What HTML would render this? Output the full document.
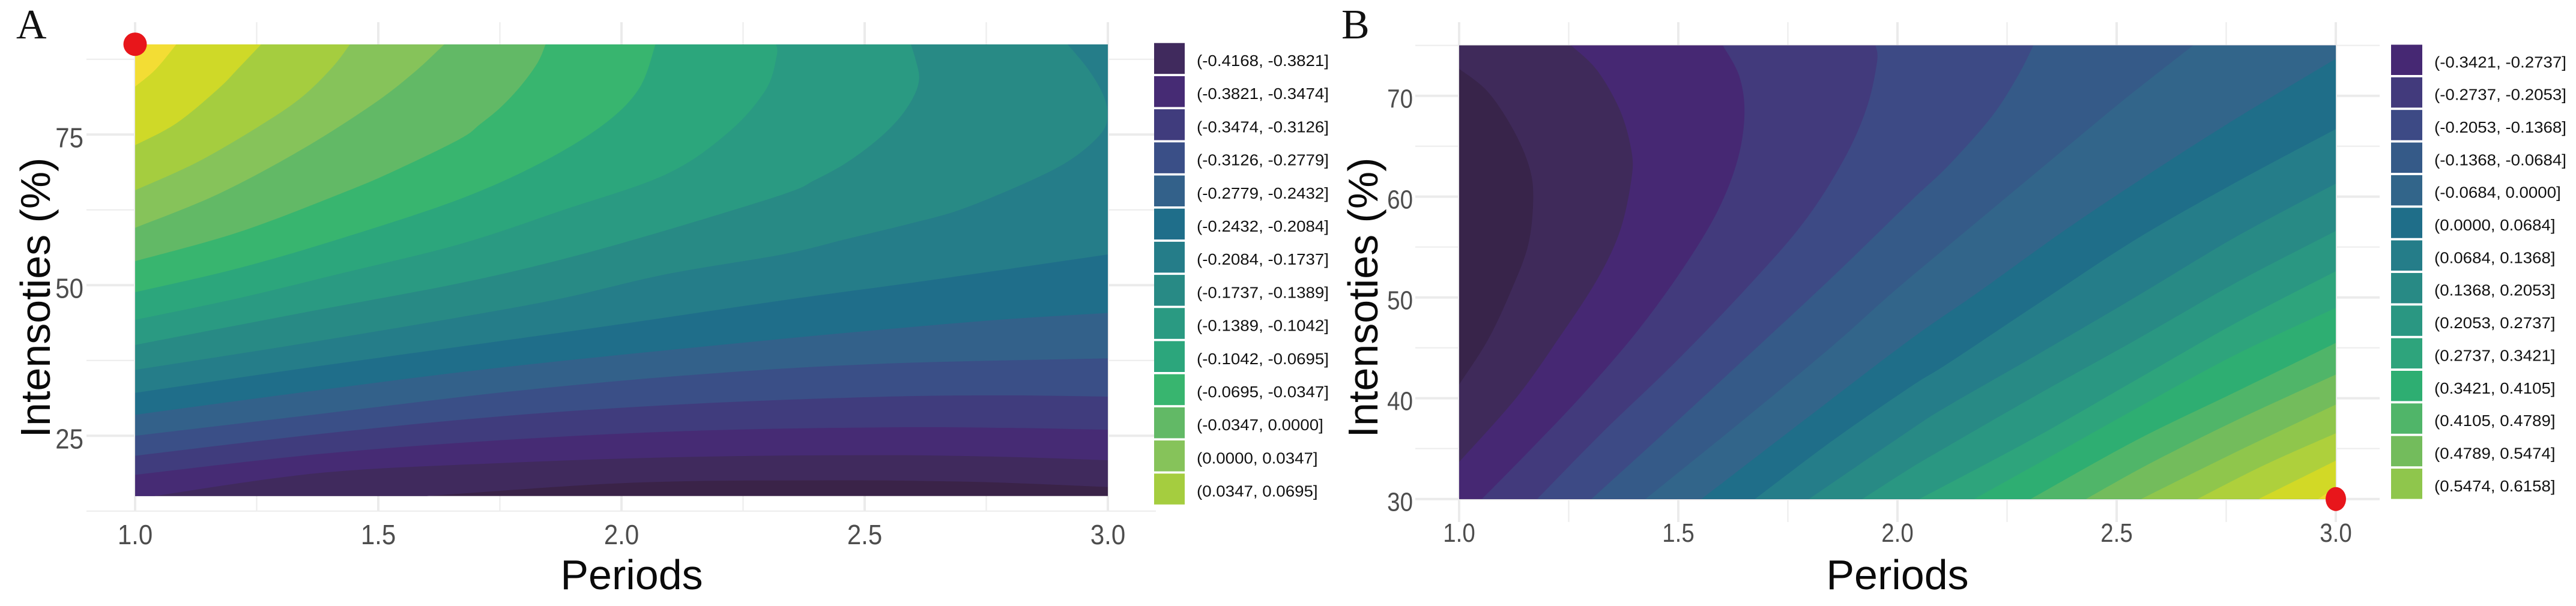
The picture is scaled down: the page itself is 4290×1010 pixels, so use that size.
<!DOCTYPE html>
<html lang="en">
<head>
<meta charset="utf-8">
<title>Contour panels A and B</title>
<style>
html,body{margin:0;padding:0;background:#fff;width:4290px;height:1010px;overflow:hidden}
svg{display:block}
text{font-family:"Liberation Sans",sans-serif}
.panel-letter{font-family:"Liberation Serif",serif;font-size:70px;fill:#111}
.axis-title{font-size:70px;fill:#0a0a0a}
</style>
</head>
<body>
<svg id="figure" xmlns="http://www.w3.org/2000/svg" width="4290" height="1010" viewBox="0 0 4290 1010">
  <rect x="0" y="0" width="4290" height="1010" fill="#fff"/>
  <defs>
    <clipPath id="clip-a"><rect x="225" y="74" width="1620" height="753"/></clipPath>
    <clipPath id="clip-b"><rect x="2430" y="75" width="1460" height="757"/></clipPath>
  </defs>
  <g id="panel-a"></g>
  <g id="panel-b"></g>
  <text class="panel-letter" x="27" y="64">A</text>
  <text class="panel-letter" x="2234" y="64">B</text>
  <text class="axis-title" x="1052" y="982" text-anchor="middle">Periods</text>
  <text class="axis-title" x="3160" y="982" text-anchor="middle">Periods</text>
  <text class="axis-title" transform="translate(83,496) rotate(-90)" text-anchor="middle">Intensoties (%)</text>
  <text class="axis-title" transform="translate(2294,496) rotate(-90)" text-anchor="middle">Intensoties (%)</text>
</svg>
<script>
// ---------- Panel A data (period, intensity) ----------
const xTicksA = [1, 1.5, 2, 2.5, 3];
const xMinorA = [1.25, 1.75, 2.25, 2.75];
const xTickLabelsA = ['1.0', '1.5', '2.0', '2.5', '3.0'];
const yTicksA = [25, 50, 75];
const yMinorA = [12.5, 37.5, 62.5, 87.5];
const yTickLabelsA = ['25', '50', '75'];
const optimumA = [1, 90];
const legendLabelsA = ['(-0.4168, -0.3821]','(-0.3821, -0.3474]','(-0.3474, -0.3126]','(-0.3126, -0.2779]','(-0.2779, -0.2432]','(-0.2432, -0.2084]','(-0.2084, -0.1737]','(-0.1737, -0.1389]','(-0.1389, -0.1042]','(-0.1042, -0.0695]','(-0.0695, -0.0347]','(-0.0347, 0.0000]','(0.0000, 0.0347]','(0.0347, 0.0695]'];
const contourA01 = [[1,82.96],[1.0425,85.85],[1.085,90]];
const contourA02 = [[1,73.23],[1.085,76.89],[1.17,82.53],[1.2126,86.02],[1.2594,90]];
const contourA03 = [[1,65.76],[1.1276,70.41],[1.255,76.39],[1.34,81.04],[1.404,86.02],[1.442,90]];
const contourA04 = [[1,59.52],[1.17,65.1],[1.34,72.4],[1.489,80.04],[1.574,85.35],[1.636,90]];
const contourA05 = [[1,53.98],[1.2126,58.79],[1.425,65.27],[1.5315,68.92],[1.667,74.23],[1.7092,76.72],[1.7517,79.54],[1.794,83.19],[1.828,87],[1.844,90]];
const contourA06 = [[1,48.83],[1.2126,52.82],[1.425,57.8],[1.667,64.27],[1.8367,70.41],[1.964,76.72],[2.0366,82.7],[2.07,90]];
const contourA07 = [[1,44.25],[1.2126,47.84],[1.425,51.98],[1.667,56.8],[1.879,62.44],[2.092,68.42],[2.22,75.39],[2.296,82.36],[2.319,88],[2.318,90]];
const contourA08 = [[1,40.08],[1.34,45.35],[1.667,50.33],[1.879,54.31],[2.092,59.12],[2.333,65.1],[2.397,67.42],[2.461,70.25],[2.525,74.06],[2.571,77.72],[2.601,81.37],[2.612,84.36],[2.605,87.34],[2.595,90]];
const contourA09 = [[1,35.95],[1.336,40.2],[1.667,44.68],[1.879,47.84],[2.092,51.82],[2.333,55.14],[2.461,57.63],[2.588,60.12],[2.699,62.61],[2.843,67.42],[2.928,71.08],[2.988,75.39],[2.999,78.71],[2.988,82.03],[2.958,86.02],[2.917,90]];
const contourA10 = [[1,32.13],[1.383,36.62],[1.74,40.6],[2,43.55],[2.333,47.5],[2.588,50.3],[2.801,52.75],[3,55.1]];
const contourA11 = [[1,28.48],[1.383,32.63],[1.765,36.45],[2.269,40.6],[2.588,43],[2.801,44.4],[3,45.38]];
const contourA12 = [[1,25],[1.383,28.65],[1.765,32.3],[2.148,35.12],[2.531,36.95],[3,37.85]];
const contourA13 = [[1,21.68],[1.383,25.33],[1.765,28.32],[2.148,30.31],[2.531,31.47],[2.786,31.7],[3,31.5]];
const contourA14 = [[1,18.52],[1.383,22],[1.765,24.33],[2.148,25.83],[2.531,26.39],[2.786,26.32],[3,26]];
const contourA15 = [[1.04,15],[1.383,18.85],[1.765,20.51],[2.148,21.51],[2.531,21.78],[2.786,21.51],[3,20.93]];
const contourA16 = [[1.6,15],[2.02,17.2],[2.403,17.6],[2.722,17.36],[3,16.5]];
const contoursA = [contourA16,contourA15,contourA14,contourA13,contourA12,contourA11,contourA10,contourA09,contourA08,contourA07,contourA06,contourA05,contourA04,contourA03,contourA02,contourA01];

// ---------- Panel B data (period, intensity) ----------
const xTicksB = [1, 1.5, 2, 2.5, 3];
const xMinorB = [1.25, 1.75, 2.25, 2.75];
const xTickLabelsB = ['1.0', '1.5', '2.0', '2.5', '3.0'];
const yTicksB = [30, 40, 50, 60, 70];
const yMinorB = [35, 45, 55, 65, 75];
const yTickLabelsB = ['30', '40', '50', '60', '70'];
const optimumB = [3, 30];
const legendLabelsB = ['(-0.3421, -0.2737]','(-0.2737, -0.2053]','(-0.2053, -0.1368]','(-0.1368, -0.0684]','(-0.0684, 0.0000]','(0.0000, 0.0684]','(0.0684, 0.1368]','(0.1368, 0.2053]','(0.2053, 0.2737]','(0.2737, 0.3421]','(0.3421, 0.4105]','(0.4105, 0.4789]','(0.4789, 0.5474]','(0.5474, 0.6158]'];
const contourB01 = [[1,72.68],[1.0655,70.4],[1.1245,66.56],[1.1605,62.86],[1.169,59.72],[1.1573,55.17],[1.118,50.61],[1.0655,45.77],[1,41.36]];
const contourB02 = [[1.2556,75],[1.3145,72.54],[1.367,68.55],[1.393,64.56],[1.393,61.72],[1.367,56.6],[1.3145,51.75],[1.229,46.06],[1.131,40.08],[1,33.67]];
const contourB03 = [[1.6016,75],[1.639,71.97],[1.651,68.27],[1.6356,63.71],[1.59,58.6],[1.511,52.9],[1.406,46.63],[1.282,40.36],[1.164,34.95],[1.052,30]];
const contourB04 = [[1.95,75],[1.9535,73.4],[1.93,68.84],[1.878,63.7],[1.786,57.45],[1.655,50.9],[1.4915,43.5],[1.328,36.66],[1.178,30]];
const contourB05 = [[2.31,75],[2.2746,71.97],[2.2157,67.98],[2.1174,63.14],[2.0275,59.44],[1.852,52.04],[1.655,44.06],[1.4915,37.5],[1.302,30]];
const contourB06 = [[2.6744,75],[2.5106,69.4],[2.314,62.3],[2.117,55.17],[1.9863,50.4],[1.852,45.2],[1.655,38.08],[1.425,30]];
const contourB07 = [[3,73.68],[2.7727,67.75],[2.576,62.3],[2.3795,56.6],[2.1829,50.47],[2.0275,45.77],[1.7864,37.8],[1.553,30]];
const contourB08 = [[3,66.7],[2.7727,61.43],[2.5433,55.74],[2.314,49.19],[2.117,43.5],[2.0275,41.07],[1.852,35.8],[1.675,30]];
const contourB09 = [[3,61.29],[2.7727,56.02],[2.5433,50.04],[2.314,44.2],[2.117,39.28],[2.0275,36.8],[1.798,30]];
const contourB10 = [[3,56.6],[2.7727,51.47],[2.5433,45.77],[2.314,40.22],[2.117,35.29],[2.0275,33],[1.92,30]];
const contourB11 = [[3,52.6],[2.7727,47.48],[2.5433,41.79],[2.314,36.09],[2.05,30]];
const contourB12 = [[3,48.96],[2.7727,44.35],[2.5433,38.94],[2.3795,34.95],[2.175,30]];
const contourB13 = [[3,45.49],[2.7727,40.65],[2.5433,35.8],[2.304,30]];
const contourB14 = [[3,42.35],[2.7727,37.8],[2.576,33.53],[2.43,30]];
const contourB15 = [[3,39.37],[2.7727,34.67],[2.556,30]];
const contourB16 = [[3,36.52],[2.838,33.39],[2.684,30]];
const contourB17 = [[3,33.81],[2.824,30]];
const contourB18 = [[3,31.2],[2.96,30]];
const contoursB = [contourB01,contourB02,contourB03,contourB04,contourB05,contourB06,contourB07,contourB08,contourB09,contourB10,contourB11,contourB12,contourB13,contourB14,contourB15,contourB16,contourB17,contourB18];

// ---------- Styles ----------
const paletteA = ['#3a2348','#402a5d','#462b74','#403c7d','#3a4f87','#33618a','#1f6e8a','#257d89','#288a85','#2a9a82','#2ca67c','#38b56f','#62b966','#86c35a','#a5cd3f','#cfd928','#f3dd34'];
const paletteB = ['#38244a','#3f2a5a','#462873','#423a7c','#3d4a85','#355a88','#32658a','#1f6e89','#257d89','#288a85','#2a9782','#2ea47c','#2eae72','#50b569','#73bc5c','#8fc64c','#aed03c','#d2d926','#f0dc2e'];

const NS = 'http://www.w3.org/2000/svg';
function make(parent, tag, attrs) {
  const el = document.createElementNS(NS, tag);
  for (const k in attrs) el.setAttribute(k, attrs[k]);
  parent.appendChild(el);
  return el;
}

function smoothPath(pts) {
  let d = 'M' + pts[0][0].toFixed(2) + ' ' + pts[0][1].toFixed(2);
  for (let i = 0; i < pts.length - 1; i++) {
    const p0 = pts[Math.max(i - 1, 0)], p1 = pts[i], p2 = pts[i + 1], p3 = pts[Math.min(i + 2, pts.length - 1)];
    const c1x = p1[0] + (p2[0] - p0[0]) / 6, c1y = p1[1] + (p2[1] - p0[1]) / 6;
    const c2x = p2[0] - (p3[0] - p1[0]) / 6, c2y = p2[1] - (p3[1] - p1[1]) / 6;
    d += 'C' + c1x.toFixed(2) + ' ' + c1y.toFixed(2) + ' ' + c2x.toFixed(2) + ' ' + c2y.toFixed(2) + ' ' + p2[0].toFixed(2) + ' ' + p2[1].toFixed(2);
  }
  return d;
}

// Position on the domain perimeter, running bottom, right, top, left.
function perimeterPos(pt, dom) {
  const nx = (pt[0] - dom.x0) / (dom.x1 - dom.x0), ny = (pt[1] - dom.y0) / (dom.y1 - dom.y0);
  const dist = [ny, 1 - nx, 1 - ny, nx];
  const edge = dist.indexOf(Math.min.apply(null, dist));
  return [nx, 1 + ny, 3 - nx, 4 - ny][edge];
}
function closingCorners(curve, dom) {
  const corners = [[dom.x0, dom.y0], [dom.x1, dom.y0], [dom.x1, dom.y1], [dom.x0, dom.y1]];
  const s = perimeterPos(curve[curve.length - 1], dom);
  let t = perimeterPos(curve[0], dom);
  if (t <= s) t += 4;
  const out = [];
  for (let k = Math.ceil(s + 1e-6); k < t; k++) out.push(corners[k % 4]);
  return out;
}

function drawPanel(cfg) {
  const root = document.getElementById(cfg.rootId);
  const x = cfg.xScale, y = cfg.yScale, dom = cfg.domain;

  const grid = make(root, 'g', {});
  
  
  cfg.yMinor.forEach(v => {
    const line = make(grid, 'line', {x1: cfg.gridLeft, x2: cfg.gridRight, y1: y(v), y2: y(v), stroke: '#ededed', 'stroke-width': 2.2});
    
    
  });
  cfg.yTicks.forEach(v => {
    const line = make(grid, 'line', {x1: cfg.gridLeft, x2: cfg.gridRight, y1: y(v), y2: y(v), stroke: '#ebebeb', 'stroke-width': 4});
    
    
  });
  cfg.xMinor.forEach(v => {
    const line = make(grid, 'line', {x1: x(v), x2: x(v), y1: 37, y2: cfg.gridBottom, stroke: '#ededed', 'stroke-width': 2.2});
    
    
  });
  cfg.xTicks.forEach(v => {
    const line = make(grid, 'line', {x1: x(v), x2: x(v), y1: 37, y2: cfg.gridBottom, stroke: '#ebebeb', 'stroke-width': 4});
    
    
  });

  const plot = make(root, 'g', {'clip-path': 'url(#' + cfg.clipId + ')'});
  
  
  const base = make(plot, 'rect', {x: x(dom.x0), y: y(dom.y1), width: x(dom.x1) - x(dom.x0), height: y(dom.y0) - y(dom.y1), fill: cfg.palette[0]});
  
  
  cfg.contours.forEach((curve, i) => {
    const px = curve.map(p => [x(p[0]), y(p[1])]);
    let d = smoothPath(px);
    closingCorners(curve, dom).forEach(c => { d += 'L' + x(c[0]).toFixed(2) + ' ' + y(c[1]).toFixed(2); });
    d += 'Z';
    const band = make(plot, 'path', {d: d, fill: cfg.palette[i + 1]});
    
    
  });

  cfg.xTicks.forEach((v, i) => {
    const t = make(root, 'text', {transform: 'translate(' + x(v) + ',' + cfg.xLabelBase + ') scale(' + cfg.tickScaleX + ',1)', 'text-anchor': 'middle', 'font-size': cfg.tickSize, fill: '#4d4d4d'});
    t.textContent = cfg.xLabels[i];
    
    
  });
  cfg.yTicks.forEach((v, i) => {
    const t = make(root, 'text', {transform: 'translate(' + cfg.yLabelRight + ',' + (y(v) + cfg.yLabelShift) + ') scale(' + cfg.tickScaleX + ',1)', 'text-anchor': 'end', 'font-size': cfg.tickSize, fill: '#4d4d4d'});
    t.textContent = cfg.yLabels[i];
    
    
  });

  const legend = make(root, 'g', {});
  
  
  let stretch = 1;
  cfg.legendLabels.forEach((label, i) => {
    const top = cfg.legendTop + i * cfg.legendPitch;
    const key = make(legend, 'rect', {x: cfg.legendX, y: top, width: cfg.legendW, height: cfg.legendH, fill: cfg.palette[cfg.legendStart + i]});
    
    
    const t = make(legend, 'text', {x: cfg.legendTextX, y: top + cfg.legendH / 2 + 12.5, 'font-size': 26, fill: '#111'});
    t.textContent = label;
    
    
    const natural = t.getComputedTextLength();
    if (i === 0 && natural > 0) stretch = cfg.legendTextWidth / natural;
    if (natural > 0) {
      t.setAttribute('textLength', (natural * stretch).toFixed(2));
      t.setAttribute('lengthAdjust', 'spacingAndGlyphs');
    }
  });

  const dot = make(root, 'ellipse', {cx: x(cfg.optimum[0]), cy: y(cfg.optimum[1]), rx: cfg.dotRx, ry: cfg.dotRy, fill: '#e8161b'});
  
  
}

drawPanel({
  rootId: 'panel-a', clipId: 'clip-a',
  domain: {x0: 1, x1: 3, y0: 15, y1: 90},
  xScale: p => 225 + (p - 1) * 810,
  yScale: v => 224.3 + (75 - v) * 10.04,
  contours: contoursA, palette: paletteA,
  xTicks: xTicksA, xMinor: xMinorA, xLabels: xTickLabelsA,
  yTicks: yTicksA, yMinor: yMinorA, yLabels: yTickLabelsA,
  gridLeft: 144, gridRight: 1925, gridBottom: 851,
  tickSize: 46, tickScaleX: 0.913, xLabelBase: 907, yLabelRight: 139, yLabelShift: 21,
  legendLabels: legendLabelsA, legendStart: 1, legendTextWidth: 220,
  legendX: 1922, legendW: 51, legendTop: 71.7, legendPitch: 55.2, legendH: 51.5, legendTextX: 1993,
  optimum: optimumA, dotRx: 19.5, dotRy: 19.5
});
drawPanel({
  rootId: 'panel-b', clipId: 'clip-b',
  domain: {x0: 1, x1: 3, y0: 30, y1: 75},
  xScale: p => 2430 + (p - 1) * 730,
  yScale: v => 75.7 + (75 - v) * 16.8,
  contours: contoursB, palette: paletteB,
  xTicks: xTicksB, xMinor: xMinorB, xLabels: xTickLabelsB,
  yTicks: yTicksB, yMinor: yMinorB, yLabels: yTickLabelsB,
  gridLeft: 2357, gridRight: 3963, gridBottom: 870,
  tickSize: 44, tickScaleX: 0.875, xLabelBase: 903, yLabelRight: 2353, yLabelShift: 20,
  legendLabels: legendLabelsB, legendStart: 2, legendTextWidth: 220,
  legendX: 3982, legendW: 52, legendTop: 74.5, legendPitch: 54.35, legendH: 50.5, legendTextX: 4054,
  optimum: optimumB, dotRx: 17, dotRy: 20
});
</script>
</body>
</html>
